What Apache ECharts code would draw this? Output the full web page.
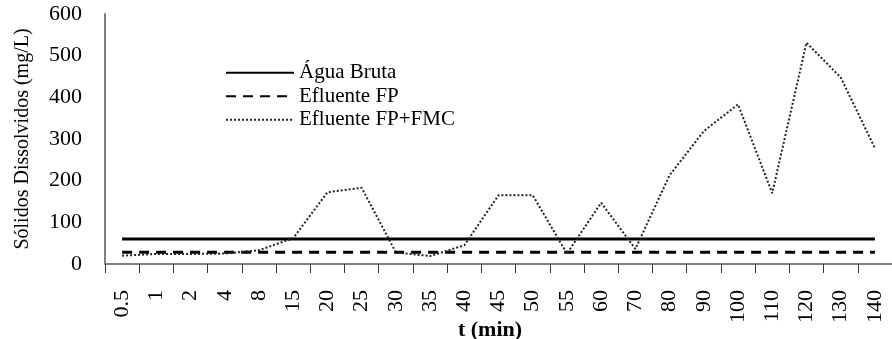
<!DOCTYPE html>
<html>
<head>
<meta charset="utf-8">
<script src="https://cdn.jsdelivr.net/npm/echarts@6/dist/echarts.min.js"></script>
<style>
  html, body { margin: 0; padding: 0; background: #fff; }
  #chart { width: 892px; height: 339px; }
</style>
</head>
<body>
<div id="chart"></div>
<script>
// Tempo de coleta (min)
const tempos = ['0.5', '1', '2', '4', '8', '15', '20', '25', '30', '35', '40', '45',
  '50', '55', '60', '70', '80', '90', '100', '110', '120', '130', '140'];

// Sólidos dissolvidos (mg/L)
const aguaBruta = [60, 60, 60, 60, 60, 60, 60, 60, 60, 60, 60, 60,
  60, 60, 60, 60, 60, 60, 60, 60, 60, 60, 60];
const efluenteFP = [28, 28, 28, 28, 28, 28, 28, 28, 28, 28, 28, 28,
  28, 28, 28, 28, 28, 28, 28, 28, 28, 28, 28];
const efluenteFPFMC = [20, 24, 24, 25, 33, 62, 172, 183, 28, 19, 45, 165,
  165, 25, 147, 36, 213, 319, 383, 170, 531, 448, 278];

const yTicks = { min: 0, max: 600, interval: 100 };

const serif = 'Liberation Serif';
const chart = echarts.init(document.getElementById('chart'), null, { renderer: 'canvas' });

chart.setOption({
  backgroundColor: '#fff',
  animation: false,
  grid: { left: 105, top: 14, width: 792, height: 250, containLabel: false },
  legend: {
    orient: 'vertical',
    left: 220,
    top: 57,
    itemWidth: 68,
    itemHeight: 14,
    itemGap: 2,
    itemStyle: { opacity: 0 },
    textStyle: { fontFamily: serif, fontSize: 21, color: '#000', lineHeight: 21.5 },
    data: ['Água Bruta', 'Efluente FP', 'Efluente FP+FMC']
  },
  xAxis: {
    type: 'category',
    data: tempos,
    boundaryGap: true,
    axisLine: { show: true, lineStyle: { color: '#808080', width: 2 } },
    axisTick: { show: true, length: 9, interval: 0, lineStyle: { color: '#333', width: 1 } },
    axisLabel: { interval: 0, rotate: 90, margin: 26, fontFamily: serif, fontSize: 22, color: '#000' },
    splitLine: { show: false }
  },
  yAxis: {
    type: 'value',
    min: yTicks.min,
    max: yTicks.max,
    interval: yTicks.interval,
    name: 'Sólidos Dissolvidos (mg/L)',
    nameLocation: 'middle',
    nameGap: 72,
    nameTextStyle: { fontFamily: serif, fontSize: 20, color: '#000' },
    axisLine: { show: true, lineStyle: { color: '#808080', width: 2 } },
    axisTick: { show: false },
    axisLabel: { margin: 23, fontFamily: serif, fontSize: 22, color: '#000' },
    splitLine: { show: false }
  },
  graphic: [{
    type: 'text',
    x: 490,
    y: 330,
    style: {
      text: 't (min)', fontFamily: serif, fontSize: 22, fontWeight: 'bold', fill: '#000',
      align: 'center', verticalAlign: 'middle'
    }
  }],
  series: [
    {
      name: 'Água Bruta',
      type: 'line',
      data: aguaBruta,
      symbol: 'none',
      lineStyle: { color: '#000', width: 3, type: 'solid' },
      itemStyle: { color: '#000' }
    },
    {
      name: 'Efluente FP',
      type: 'line',
      data: efluenteFP,
      symbol: 'none',
      lineStyle: { color: '#000', width: 3, type: [10, 7] },
      itemStyle: { color: '#000' }
    },
    {
      name: 'Efluente FP+FMC',
      type: 'line',
      data: efluenteFPFMC,
      symbol: 'none',
      lineStyle: { color: '#222', width: 2, type: [2, 2] },
      itemStyle: { color: '#222' }
    }
  ]
});
</script>
</body>
</html>
